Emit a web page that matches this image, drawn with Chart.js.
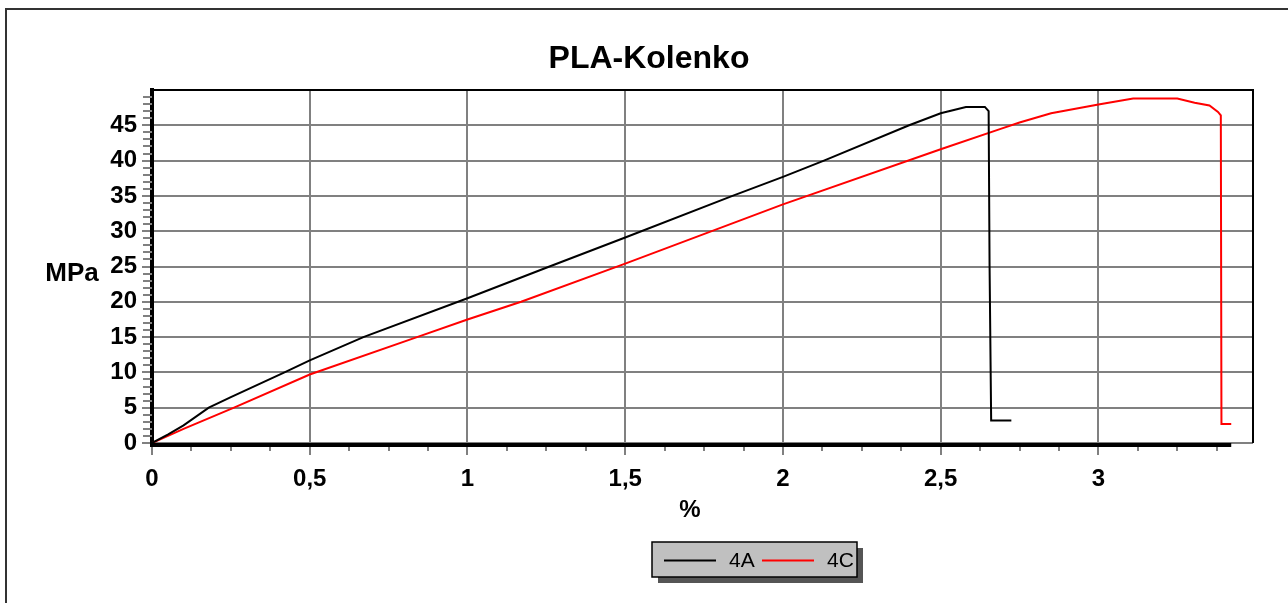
<!DOCTYPE html>
<html>
<head>
<meta charset="utf-8">
<title>PLA-Kolenko</title>
<script src="https://cdn.jsdelivr.net/npm/chart.js@4/dist/chart.umd.min.js"></script>
<style>
  html, body { margin: 0; padding: 0; background: #fff; }
  canvas { display: block; }
</style>
</head>
<body>
<canvas id="chart" width="1288" height="603"></canvas>
<script>
const chartTitle = 'PLA-Kolenko';
const xTitle = '%';
const yTitle = 'MPa';
const seriesNames = ['4A', '4C'];
const seriesColors = ['#000000', '#ff0000'];

// 4A: strain (%) / stress (MPa)
const strainA = [0, 0.05, 0.1, 0.18, 0.25, 0.42, 0.5, 0.67, 1.0, 1.26, 1.5, 1.84, 2.0, 2.13, 2.4, 2.5, 2.58, 2.64, 2.652, 2.655, 2.66, 2.724];
const stressA = [0, 1.2, 2.5, 5, 6.5, 10, 11.7, 15, 20.5, 25, 29.1, 35, 37.7, 40, 45, 46.7, 47.6, 47.6, 47, 25, 3.2, 3.2];

// 4C
const strainC = [0, 0.1, 0.26, 0.5, 0.84, 1.0, 1.17, 1.5, 2.0, 2.5, 2.69, 2.75, 2.85, 3.0, 3.11, 3.25, 3.305, 3.352, 3.379, 3.388, 3.39, 3.421];
const stressC = [0, 2.0, 5, 9.7, 15, 17.5, 20, 25.4, 33.8, 41.6, 44.5, 45.4, 46.7, 47.95, 48.8, 48.8, 48.2, 47.8, 46.9, 46.4, 2.7, 2.7];

const xMax = 3.49;
const yMax = 50;
const xMajorStep = 0.5;
const xMinorStep = 0.125;
const yMajorStep = 5;
const yMinorStep = 1;

const fontFamily = '"Liberation Sans", Arial, sans-serif';
Chart.defaults.font.family = fontFamily;
Chart.defaults.color = '#000';

const toPoints = (xs, ys) => xs.map((x, i) => ({ x, y: ys[i] }));

const extras = {
  id: 'extras',
  beforeDatasetsDraw(chart) {
    const { ctx, chartArea: a, scales: { x, y } } = chart;
    ctx.save();
    ctx.strokeStyle = '#808080';
    ctx.lineWidth = 2;
    for (let v = yMinorStep; v < yMax; v += yMinorStep) {
      if (v % yMajorStep === 0) continue;
      const py = Math.round(y.getPixelForValue(v));
      ctx.beginPath();
      ctx.moveTo(a.left - 9, py);
      ctx.lineTo(a.left, py);
      ctx.stroke();
    }
    for (let k = 1; k * xMinorStep < xMax; k++) {
      const v = k * xMinorStep;
      if (v % xMajorStep === 0) continue;
      const px = Math.round(x.getPixelForValue(v));
      ctx.beginPath();
      ctx.moveTo(px, a.bottom);
      ctx.lineTo(px, a.bottom + 8);
      ctx.stroke();
    }

    // plot frame
    ctx.strokeStyle = '#000';
    ctx.beginPath();
    ctx.moveTo(a.left, a.top);
    ctx.lineTo(a.right, a.top);
    ctx.lineTo(a.right, a.bottom);
    ctx.stroke();

    // x axis line runs only as far as the data
    const dataEnd = Math.max(...strainA, ...strainC);
    ctx.lineWidth = 4;
    ctx.beginPath();
    ctx.moveTo(a.left - 2, a.bottom + 2);
    ctx.lineTo(x.getPixelForValue(dataEnd), a.bottom + 2);
    ctx.stroke();
    ctx.restore();
  },
  afterDraw(chart) {
    const { ctx, chartArea: a } = chart;
    ctx.save();

    // outer border
    ctx.strokeStyle = '#333';
    ctx.lineWidth = 2;
    ctx.beginPath();
    ctx.moveTo(6, chart.height);
    ctx.lineTo(6, 9);
    ctx.lineTo(chart.width, 9);
    ctx.stroke();

    // titles
    ctx.fillStyle = '#000';
    ctx.textAlign = 'center';
    ctx.textBaseline = 'middle';
    ctx.font = 'bold 32px ' + fontFamily;
    ctx.fillText(chartTitle, 649, 59);
    ctx.font = 'bold 24px ' + fontFamily;
    ctx.fillText(xTitle, 690, 510);
    ctx.font = 'bold 26px ' + fontFamily;
    ctx.fillText(yTitle, 72, (a.top + a.bottom) / 2 + 7);

    // legend box with shadow
    const lx = 652, ly = 542, lw = 205, lh = 35;
    ctx.fillStyle = '#555';
    ctx.fillRect(lx + 6, ly + 6, lw, lh);
    ctx.fillStyle = '#c0c0c0';
    ctx.fillRect(lx, ly, lw, lh);
    ctx.strokeStyle = '#000';
    ctx.lineWidth = 1.5;
    ctx.strokeRect(lx, ly, lw, lh);

    ctx.font = '21px ' + fontFamily;
    ctx.textAlign = 'left';
    const cy = ly + lh / 2 + 1;
    seriesNames.forEach((name, i) => {
      const sx = lx + 12 + i * 98;
      ctx.strokeStyle = seriesColors[i];
      ctx.lineWidth = 2;
      ctx.beginPath();
      ctx.moveTo(sx, cy);
      ctx.lineTo(sx + 52, cy);
      ctx.stroke();
      ctx.fillStyle = '#000';
      ctx.fillText(name, sx + 65, cy + 1);
    });
    ctx.restore();
  },
};

new Chart(document.getElementById('chart'), {
  type: 'line',
  data: {
    datasets: [
      {
        label: seriesNames[0],
        data: toPoints(strainA, stressA),
        borderColor: seriesColors[0],
        borderWidth: 2,
        pointRadius: 0,
        tension: 0,
      },
      {
        label: seriesNames[1],
        data: toPoints(strainC, stressC),
        borderColor: seriesColors[1],
        borderWidth: 2,
        pointRadius: 0,
        tension: 0,
      },
    ],
  },
  options: {
    responsive: false,
    animation: false,
    layout: { padding: { left: 0, right: 35, top: 90, bottom: 0 } },
    plugins: {
      legend: { display: false },
      tooltip: { enabled: false },
      title: { display: false },
    },
    scales: {
      x: {
        type: 'linear',
        min: 0,
        max: xMax,
        afterFit(scale) { scale.height = 160; },
        border: { display: false },
        grid: { color: '#808080', lineWidth: 2, tickLength: 12, tickColor: '#808080' },
        ticks: {
          stepSize: xMajorStep,
          includeBounds: false,
          autoSkip: false,
          maxRotation: 0,
          padding: 10,
          color: '#000',
          font: { size: 24, weight: 'bold' },
          callback: (v) => String(v).replace('.', ','),
        },
      },
      y: {
        min: 0,
        max: yMax,
        afterFit(scale) { scale.width = 152; },
        afterBuildTicks(scale) { scale.ticks = scale.ticks.filter((t) => t.value < yMax); },
        border: { display: true, color: '#000', width: 4 },
        grid: { color: '#808080', lineWidth: 2, tickLength: 10, tickColor: '#808080' },
        ticks: {
          stepSize: yMajorStep,
          padding: 5,
          color: '#000',
          font: { size: 24, weight: 'bold' },
        },
      },
    },
  },
  plugins: [extras],
});
</script>
</body>
</html>
